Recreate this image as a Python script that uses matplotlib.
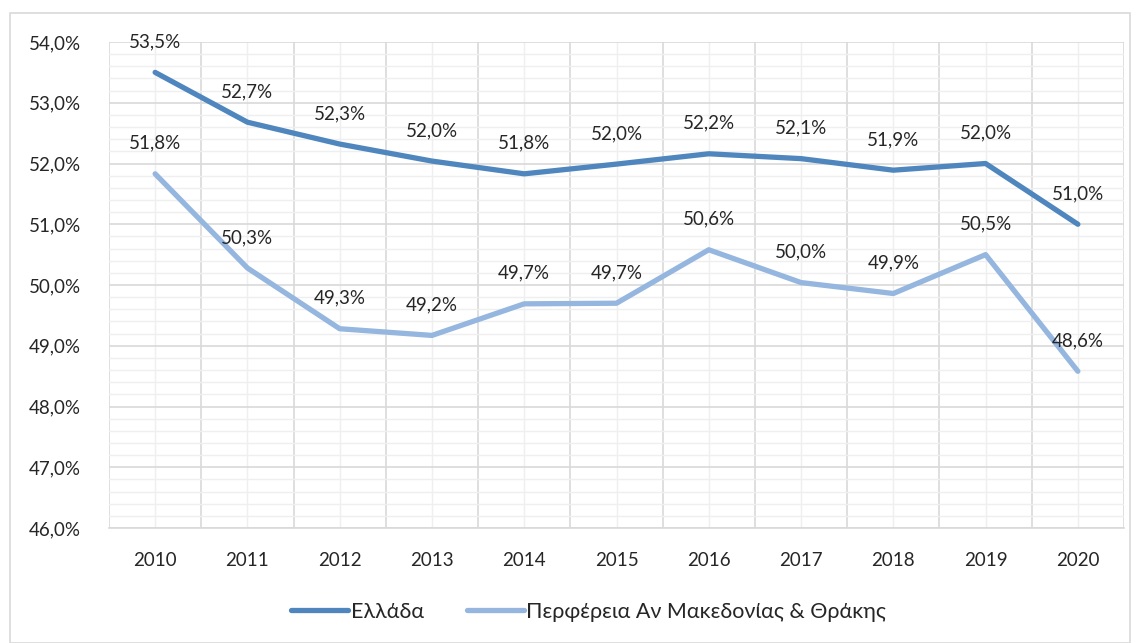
import matplotlib.pyplot as plt
from matplotlib.patches import Rectangle
from matplotlib.ticker import MultipleLocator, FuncFormatter
import numpy as np

plt.rcParams['font.family'] = ['Lato', 'DejaVu Sans']

years = ["2010", "2011", "2012", "2013", "2014", "2015", "2016", "2017", "2018", "2019", "2020"]
greece = [53.50, 52.68, 52.32, 52.04, 51.83, 51.99, 52.16, 52.08, 51.89, 52.00, 51.00]
region = [51.83, 50.28, 49.28, 49.17, 49.69, 49.70, 50.58, 50.04, 49.86, 50.50, 48.58]
series_names = ["Ελλάδα", "Περφέρεια Αν Μακεδονίας & Θράκης"]
colors = ["#4F86BE", "#95B6DE"]


def pct(v, pos=None):
    return f"{v:.1f}%".replace(".", ",")


fig = plt.figure(figsize=(11.41, 6.43), dpi=100)
ax = fig.add_axes([109 / 1141, 1 - 528 / 643, (1124 - 109) / 1141, (528 - 42) / 643])

# outer chart border
fig.patches.append(Rectangle((10 / 1141, 0), 1120 / 1141, 1 - 13 / 643,
                             transform=fig.transFigure, fill=False,
                             edgecolor="#D9D9D9", linewidth=1.2))

x = np.arange(len(years))
for vals, name, c in zip([greece, region], series_names, colors):
    ax.plot(x, vals, color=c, linewidth=3.8, solid_capstyle="round",
            solid_joinstyle="round", label=name, zorder=3)
    for xi, v in zip(x, vals):
        ax.annotate(pct(v), (xi, v), xytext=(0, 22), textcoords="offset points",
                    ha="center", va="center", fontsize=13.5, color="#262626", zorder=4)

ax.set_xlim(-0.5, len(years) - 0.5)
ax.set_ylim(46, 54)
ax.yaxis.set_major_locator(MultipleLocator(1))
ax.yaxis.set_minor_locator(MultipleLocator(0.2))
ax.yaxis.set_major_formatter(FuncFormatter(pct))
ax.set_xticks(x)
ax.set_xticklabels(years)
ax.set_xticks(np.arange(-0.5, len(years), 1), minor=True)

ax.grid(which="major", axis="y", color="#D9D9D9", linewidth=1.2)
ax.grid(which="minor", axis="y", color="#EFEFEF", linewidth=1.0)
ax.grid(which="minor", axis="x", color="#D9D9D9", linewidth=1.2)
ax.grid(which="major", axis="x", color="#EFEFEF", linewidth=1.0)
ax.set_axisbelow(True)

for s in ["top", "right", "left"]:
    ax.spines[s].set_visible(False)
ax.spines["bottom"].set_color("#D9D9D9")
ax.spines["bottom"].set_linewidth(1.2)
ax.tick_params(which="both", length=0)
ax.tick_params(axis="y", labelsize=13.5, colors="#262626", pad=20)
ax.tick_params(axis="x", labelsize=13.5, colors="#262626", pad=17)

fig.legend(loc="center left", bbox_to_anchor=(272 / 1141, 1 - 612 / 643), ncol=2,
           frameon=False, fontsize=15.5, handlelength=2.65, handletextpad=0.1,
           columnspacing=2.0, labelcolor="#262626")

fig.savefig("out.png", dpi=100)
